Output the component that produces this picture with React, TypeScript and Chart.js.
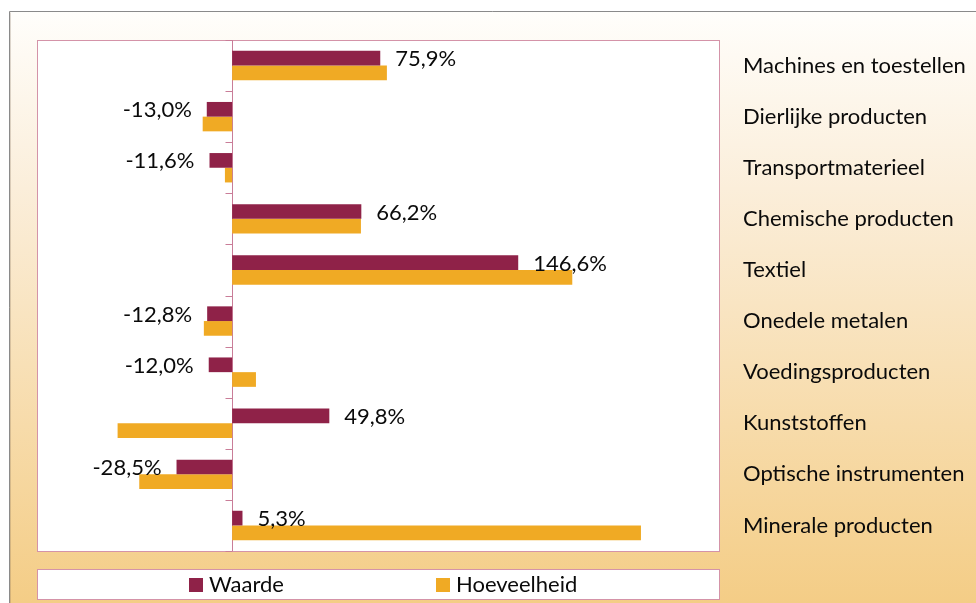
import React, { useEffect, useRef } from "react";
import { Chart, registerables } from "chart.js";

Chart.register(...registerables);

const categories = [
  "Machines en toestellen",
  "Dierlijke producten",
  "Transportmaterieel",
  "Chemische producten",
  "Textiel",
  "Onedele metalen",
  "Voedingsproducten",
  "Kunststoffen",
  "Optische instrumenten",
  "Minerale producten",
];

const waarde = [75.9, -13.0, -11.6, 66.2, 146.6, -12.8, -12.0, 49.8, -28.5, 5.3];
const hoeveelheid = [79.3, -15.1, -3.7, 66.0, 174.3, -14.5, 12.2, -58.7, -47.6, 209.5];

const seriesNames = ["Waarde", "Hoeveelheid"];
const seriesColors = ["#8F2248", "#F0AA24"];

const FONT = "Lato, 'Open Sans', sans-serif";
const PINK = "#D493A8";
const TEXT = "#0A0A0A";

const fmt = (v: number) => v.toFixed(1).replace(".", ",") + "%";

const decorPlugin = {
  id: "decor",
  beforeDraw(chart: any) {
    const { ctx, width, height, chartArea } = chart;
    ctx.save();
    ctx.fillStyle = "#FFFFFF";
    ctx.fillRect(0, 0, width, height);
    // outer frame with gradient
    const fx = 9, fy = 11;
    const g = ctx.createLinearGradient(0, fy, 0, height);
    g.addColorStop(0, "#FFFEFB");
    g.addColorStop(0.3, "#FBEEDA");
    g.addColorStop(1, "#F4CD86");
    ctx.fillStyle = g;
    ctx.fillRect(fx, fy, width - fx, height - fy);
    ctx.strokeStyle = "#8A8A8A";
    ctx.lineWidth = 1;
    ctx.beginPath();
    ctx.moveTo(fx + 0.5, height);
    ctx.lineTo(fx + 0.5, fy + 0.5);
    ctx.lineTo(width, fy + 0.5);
    ctx.stroke();
    ctx.strokeStyle = "rgba(120,100,80,0.25)";
    ctx.beginPath();
    ctx.moveTo(fx + 1.5, height);
    ctx.lineTo(fx + 1.5, fy + 1.5);
    ctx.stroke();
    // plot area
    const { left, top, right, bottom } = chartArea;
    ctx.fillStyle = "#FFFFFF";
    ctx.fillRect(left, top, right - left, bottom - top);
    ctx.strokeStyle = PINK;
    ctx.strokeRect(left + 0.5, top + 0.5, right - left - 1, bottom - top);
    // legend box
    const ly = bottom + 18;
    const lh = 31;
    ctx.fillStyle = "#FFFFFF";
    ctx.fillRect(left, ly, right - left, lh);
    ctx.strokeRect(left + 0.5, ly + 0.5, right - left - 1, lh - 1);
    const itemX = [left + 152, left + 399];
    ctx.font = `22px ${FONT}`;
    ctx.textBaseline = "middle";
    ctx.textAlign = "left";
    seriesNames.forEach((name, i) => {
      ctx.fillStyle = seriesColors[i];
      ctx.fillRect(itemX[i], ly + 9, 14, 14);
      ctx.fillStyle = TEXT;
      ctx.fillText(name, itemX[i] + 20, ly + 16);
    });
    ctx.restore();
  },
  beforeDatasetsDraw(chart: any) {
    const { ctx, chartArea, scales } = chart;
    const xs = scales.x;
    const ys = scales.y;
    const x0 = Math.round(xs.getPixelForValue(0)) + 0.5;
    ctx.save();
    ctx.strokeStyle = "#C97D98";
    ctx.lineWidth = 1;
    ctx.beginPath();
    ctx.moveTo(x0, chartArea.top);
    ctx.lineTo(x0, chartArea.bottom);
    const n = categories.length;
    for (let k = 0; k <= n; k++) {
      const y = Math.round(ys.getPixelForValue(k - 0.5)) + 0.5;
      ctx.moveTo(x0 - 7, y);
      ctx.lineTo(x0, y);
    }
    ctx.stroke();
    ctx.restore();
  },
  afterDatasetsDraw(chart: any) {
    const { ctx } = chart;
    const meta = chart.getDatasetMeta(0);
    ctx.save();
    ctx.font = `22px ${FONT}`;
    ctx.fillStyle = TEXT;
    ctx.textBaseline = "middle";
    meta.data.forEach((el: any, i: number) => {
      const v = waarde[i];
      if (v >= 0) {
        ctx.textAlign = "left";
        ctx.fillText(fmt(v), el.x + 15, el.y + 1);
      } else {
        ctx.textAlign = "right";
        ctx.fillText(fmt(v), el.x - 15, el.y + 1);
      }
    });
    ctx.restore();
  },
};

export default function App() {
  const ref = useRef<HTMLCanvasElement>(null);
  useEffect(() => {
    if (!ref.current) return;
    const chart = new Chart(ref.current, {
      type: "bar",
      data: {
        labels: categories,
        datasets: [
          {
            label: seriesNames[0],
            data: waarde,
            backgroundColor: seriesColors[0],
            borderWidth: 0,
          },
          {
            label: seriesNames[1],
            data: hoeveelheid,
            backgroundColor: seriesColors[1],
            borderWidth: 0,
          },
        ],
      },
      options: {
        indexAxis: "y",
        responsive: false,
        animation: false,
        devicePixelRatio: 1,
        layout: { padding: { left: 37, top: 40, bottom: 52, right: 0 } },
        datasets: {
          bar: { categoryPercentage: 0.575, barPercentage: 1 },
        },
        plugins: {
          legend: { display: false },
          tooltip: { enabled: false },
          title: { display: false },
        },
        scales: {
          x: {
            display: false,
            min: -100,
            max: 250,
          },
          y: {
            position: "right",
            grid: { display: false, drawTicks: false },
            border: { display: false },
            ticks: {
              padding: 23,
              color: TEXT,
              font: { family: FONT, size: 22 },
            },
            afterFit(scale: any) {
              scale.width = 256;
            },
          },
        },
      },
      plugins: [decorPlugin],
    } as any);
    return () => chart.destroy();
  }, []);
  return (
    <div style={{ position: "fixed", left: 0, top: 0, width: 976, height: 603 }}>
      <canvas ref={ref} width={976} height={603} style={{ display: "block" }} />
    </div>
  );
}
